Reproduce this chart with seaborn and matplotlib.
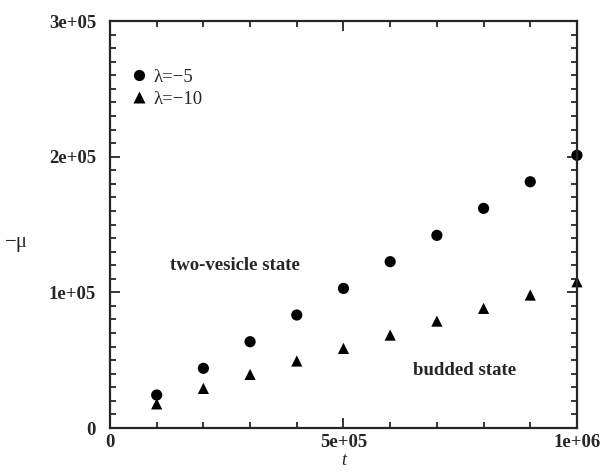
import numpy as np
import pandas as pd
import matplotlib
matplotlib.use("Agg")
import matplotlib.pyplot as plt
import seaborn as sns
from matplotlib.ticker import MultipleLocator, FuncFormatter

# datos
t = [1e5, 2e5, 3e5, 4e5, 5e5, 6e5, 7e5, 8e5, 9e5, 1e6]
mu_lam5 = [24300, 44000, 63600, 83300, 102900, 122600, 142000, 161900, 181500, 201000]
mu_lam10 = [17800, 29200, 39500, 49400, 58700, 68500, 78800, 88200, 98000, 107800]
labels = ["λ=−5", "λ=−10"]

df = pd.concat([
    pd.DataFrame({"t": t, "mu": mu_lam5, "serie": labels[0]}),
    pd.DataFrame({"t": t, "mu": mu_lam10, "serie": labels[1]}),
])

sns.set_style("ticks")
plt.rcParams['font.family'] = ['Liberation Serif', 'DejaVu Serif']

fig = plt.figure(figsize=(6.01, 4.72), dpi=100)
ax = fig.add_axes([0.183, 0.0932, 0.777, 0.8623])

sns.scatterplot(data=df, x="t", y="mu", style="serie",
                markers={labels[0]: "o", labels[1]: "^"},
                color="black", s=65, edgecolor="none", ax=ax, clip_on=False)

ax.set_xlim(0, 1e6)
ax.set_ylim(0, 3e5)


def fmt(v, pos):
    if v == 0:
        return "0"
    return "%.0e" % v


ax.xaxis.set_major_locator(MultipleLocator(5e5))
ax.xaxis.set_minor_locator(MultipleLocator(1e5))
ax.yaxis.set_major_locator(MultipleLocator(1e5))
ax.yaxis.set_minor_locator(MultipleLocator(1e4))
ax.xaxis.set_major_formatter(FuncFormatter(fmt))
ax.yaxis.set_major_formatter(FuncFormatter(fmt))

ax.tick_params(which="both", direction="in", top=True, right=True, width=1.3)
ax.tick_params(which="major", length=7, labelsize=13.5)
ax.tick_params(axis="y", which="major", pad=10)
ax.tick_params(axis="x", which="major", pad=4)
ax.tick_params(which="minor", length=4.5)
for lbl in ax.get_xticklabels() + ax.get_yticklabels():
    lbl.set_fontweight("bold")
for sp in ax.spines.values():
    sp.set_linewidth(1.6)
    sp.set_visible(True)

ax.set_xlabel("t", fontstyle="italic", fontsize=13, labelpad=1)
ax.set_ylabel("−μ", fontsize=15, rotation=0, va="center")
ax.yaxis.set_label_coords(-0.2, 0.455)

ax.text(1.28e5, 1.2e5, "two-vesicle state", fontsize=13.5, fontweight="bold", va="center")
ax.text(6.48e5, 4.27e4, "budded state", fontsize=13.5, fontweight="bold", va="center")

ax.legend(loc="upper left", bbox_to_anchor=(0.042, 0.883), frameon=False,
          fontsize=13.5, handlelength=1.0, handletextpad=0.25, labelspacing=0.25,
          borderaxespad=0, borderpad=0)

fig.savefig("out.png", dpi=100)
